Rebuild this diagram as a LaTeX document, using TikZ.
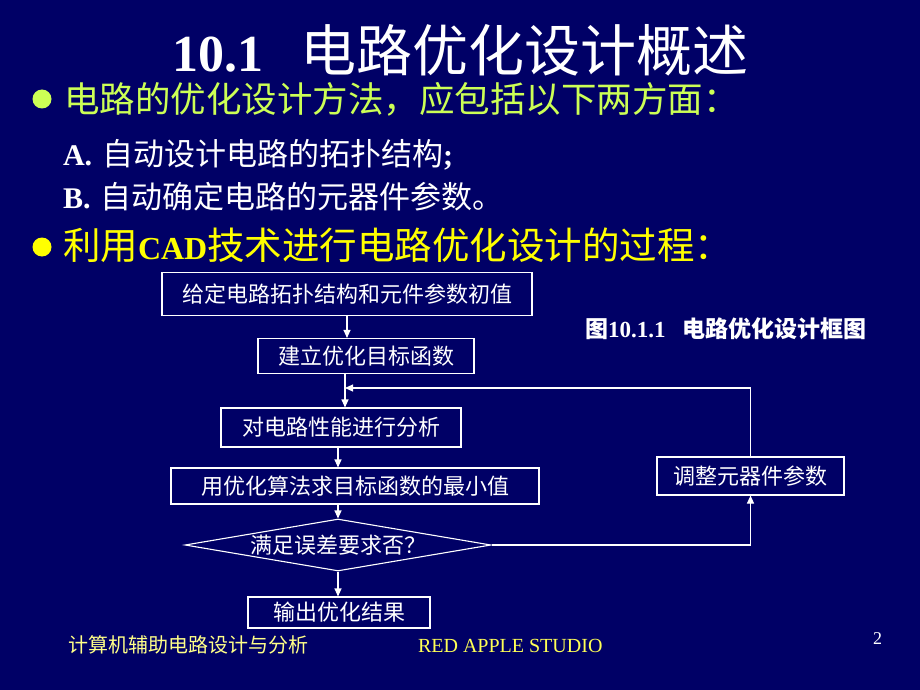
\documentclass[tikz,border=0pt]{standalone}
\usepackage{fontspec}
\setmainfont{Liberation Serif}
\newfontfamily\cjk{Noto Sans CJK SC}
\usetikzlibrary{arrows.meta,shapes.geometric}
\definecolor{bg}{HTML}{000066}
\definecolor{lime}{HTML}{CCFF55}
\definecolor{ylw}{HTML}{FFFF00}
\definecolor{footy}{HTML}{FFFF88}
\definecolor{footr}{HTML}{FFFF55}
\newcommand{\fs}[1]{\fontsize{#1}{#1}\selectfont}
\tikzset{
  txt/.style={anchor=base west,inner sep=0pt,outer sep=0pt},
  flowbox/.style={draw=white,line width=1.1pt,rectangle,inner sep=0pt,text=white,font=\cjk\fs{22}},
  flowdia/.style={draw=white,line width=1.1pt,diamond,inner sep=0pt,aspect=5.9,text=white,font=\cjk\fs{22}},
  link/.style={draw=white,line width=1.1pt},
  arr/.style={link,-{Triangle[length=8pt,width=7pt]}},
  bullet/.style={circle,inner sep=0pt,minimum size=19pt}
}
\begin{document}
\begin{tikzpicture}[x=1pt,y=-1pt]
\fill[bg] (0,0) rectangle (920,690);
\useasboundingbox (0,0) rectangle (920,690);
% title
\node[txt,text=white] (title) at (172,72) {\fs{52}\bfseries 10.1\hspace{37pt}{\cjk\mdseries\fs{56}电路优化设计概述}};
% bullet lines
\node[bullet,fill=lime] (b1) at (42,99) {};
\node[txt,text=lime] (l1) at (64,113) {\cjk\fs{35.5}电路的优化设计方法，应包括以下两方面：};
\node[txt,text=white] (la) at (63,165) {\fs{30}\textbf{A.}\hspace{10pt}{\cjk\fs{31}自动设计电路的拓扑结构}\textbf{;}};
\node[txt,text=white] (lb) at (63,208) {\fs{30}\textbf{B.}\hspace{10pt}{\cjk\fs{31}自动确定电路的元器件参数。}};
\node[bullet,fill=ylw] (b2) at (42,247) {};
\node[txt,text=ylw] (l2) at (63,259) {\cjk\fs{37.5}利用{\rmfamily\bfseries\fs{32}CAD}技术进行电路优化设计的过程：};
% caption
\node[txt,text=white] (cap) at (585,337) {\fs{23}\bfseries{\cjk 图}10.1.1\hspace{17pt}{\cjk 电路优化设计框图}};
% flowchart
\node[flowbox,minimum width=370pt,minimum height=43pt] (n1) at (347,294) {给定电路拓扑结构和元件参数初值};
\node[flowbox,minimum width=216pt,minimum height=35pt] (n2) at (366,356) {建立优化目标函数};
\node[flowbox,minimum width=240pt,minimum height=39pt] (n3) at (341,427.5) {对电路性能进行分析};
\node[flowbox,minimum width=368pt,minimum height=36pt] (n4) at (355,486) {用优化算法求目标函数的最小值};
\node[flowdia,minimum width=306pt,minimum height=52pt] (d) at (338,545) {满足误差要求否？};
\node[flowbox,minimum width=182pt,minimum height=31pt] (n5) at (339,612.5) {输出优化结果};
\node[flowbox,minimum width=187pt,minimum height=38pt] (n6) at (750.5,476) {调整元器件参数};
\coordinate (j) at (345,388);
\draw[arr] (n1.south) -- (n1.south |- n2.north);
\draw[link] (n2.south -| j) -- (j);
\draw[arr] (j) -- (j |- n3.north);
\draw[arr] (n6.north) |- (j);
\draw[arr] (n3.south -| d) -- (n4.north -| d);
\draw[arr] (n4.south -| d) -- (d.north);
\draw[arr] (d.south) -- (d.south |- n5.north);
\draw[arr] (d.east) -| (n6.south);
% footer
\node[txt,text=footy] (f1) at (68,652) {\cjk\fs{20}计算机辅助电路设计与分析};
\node[txt,text=footr] (f2) at (418,652) {\fs{20}RED APPLE STUDIO};
\node[txt,text=white] (pg) at (873,644) {\fs{18}2};
\end{tikzpicture}
\end{document}
